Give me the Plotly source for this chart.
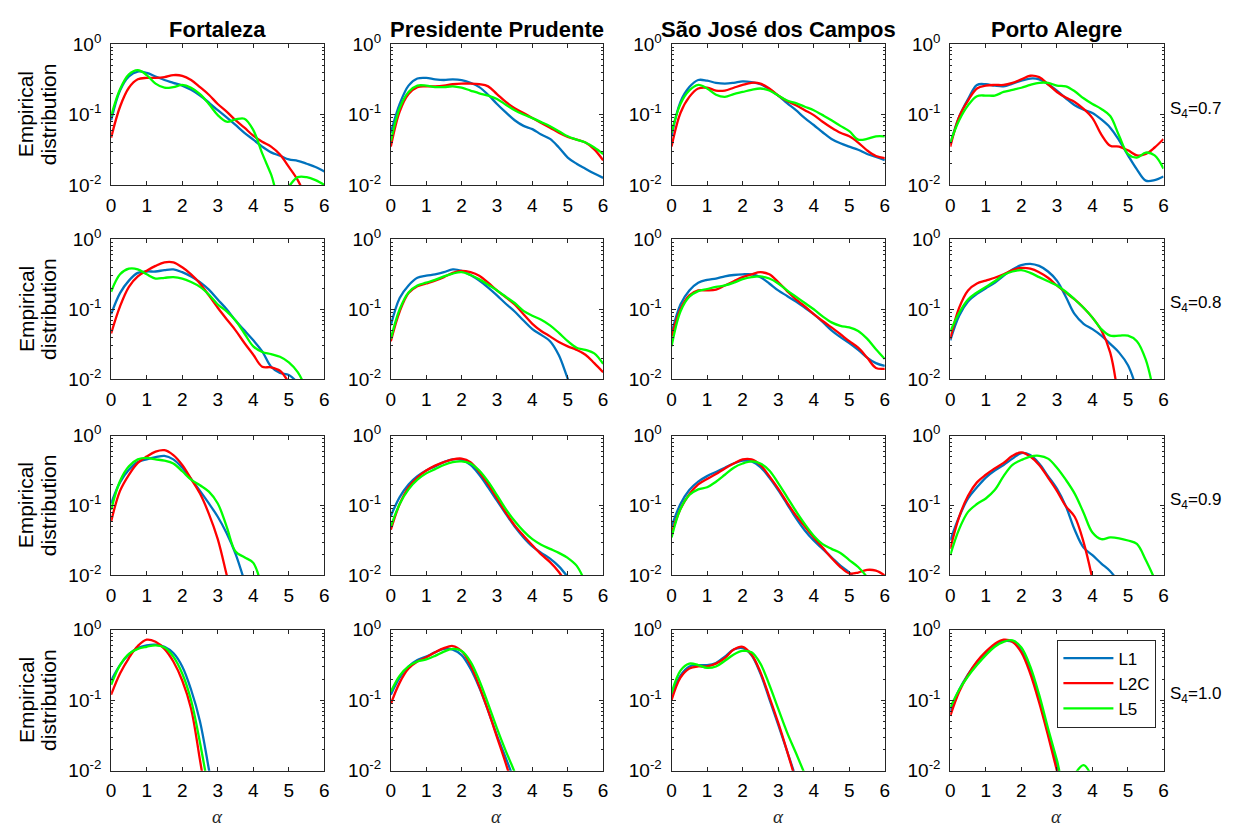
import plotly.graph_objects as go

# ---------------- data ----------------
ALPHA = [0, 0.25, 0.5, 0.75, 1, 1.25, 1.5, 1.75, 2, 2.25, 2.5, 2.75, 3,
         3.25, 3.5, 3.75, 4, 4.25, 4.5, 4.75, 5, 5.25, 5.5, 5.75, 6]

CITIES = ["Fortaleza", "Presidente Prudente", "São José dos Campos", "Porto Alegre"]
S4_LEVELS = ["0.7", "0.8", "0.9", "1.0"]
SERIES_NAMES = ["L1", "L2C", "L5"]
X_TICKS = [0, 1, 2, 3, 4, 5, 6]
Y_TICK_VALS = [0.01, 0.1, 1]
Y_TICK_TEXT = ["10<sup>-2</sup>", "10<sup>-1</sup>", "10<sup>0</sup>"]
Y_MINOR = [0.02, 0.03, 0.04, 0.05, 0.06, 0.07, 0.08, 0.09,
           0.2, 0.3, 0.4, 0.5, 0.6, 0.7, 0.8, 0.9]

# S4 = 0.7
FOR_07_L1 = [0.083, 0.219, 0.347, 0.407, 0.389, 0.347, 0.309, 0.282, 0.257, 0.224, 0.186, 0.148, 0.115,
             0.091, 0.071, 0.055, 0.044, 0.035, 0.029, 0.026, 0.023, 0.022, 0.020, 0.018, 0.0155]
FOR_07_L2C = [0.047, 0.129, 0.240, 0.316, 0.331, 0.331, 0.339, 0.363, 0.355, 0.309, 0.245, 0.191, 0.141,
              0.110, 0.083, 0.065, 0.050, 0.041, 0.035, 0.027, 0.018, 0.0117, 0.0063]
FOR_07_L5 = [0.095, 0.229, 0.372, 0.427, 0.363, 0.275, 0.240, 0.245, 0.263, 0.240, 0.195, 0.141, 0.098,
             0.079, 0.085, 0.087, 0.060, 0.028, 0.0141, 0.0063, 0.0095, 0.0129, 0.0129, 0.0117, 0.0100]

PP_07_L1 = [0.055, 0.141, 0.257, 0.324, 0.331, 0.316, 0.309, 0.316, 0.309, 0.282, 0.245, 0.191, 0.141,
            0.107, 0.083, 0.069, 0.062, 0.052, 0.045, 0.034, 0.0245, 0.020, 0.017, 0.0145, 0.0126]
PP_07_L2C = [0.035, 0.110, 0.195, 0.245, 0.251, 0.251, 0.257, 0.269, 0.275, 0.275, 0.269, 0.251, 0.195,
             0.151, 0.123, 0.105, 0.089, 0.076, 0.065, 0.055, 0.048, 0.044, 0.040, 0.032, 0.0224]
PP_07_L5 = [0.042, 0.123, 0.209, 0.257, 0.257, 0.245, 0.245, 0.251, 0.240, 0.219, 0.200, 0.186, 0.166,
            0.138, 0.115, 0.100, 0.089, 0.078, 0.068, 0.058, 0.049, 0.044, 0.040, 0.034, 0.0275]

SJC_07_L1 = [0.049, 0.151, 0.245, 0.309, 0.302, 0.282, 0.275, 0.282, 0.295, 0.288, 0.269, 0.229, 0.186,
             0.145, 0.115, 0.089, 0.071, 0.056, 0.045, 0.039, 0.035, 0.0316, 0.0275, 0.025, 0.0224]
SJC_07_L2C = [0.035, 0.105, 0.178, 0.234, 0.240, 0.219, 0.219, 0.240, 0.263, 0.282, 0.275, 0.234, 0.186,
              0.155, 0.135, 0.115, 0.098, 0.079, 0.065, 0.055, 0.049, 0.040, 0.031, 0.0257, 0.024]
SJC_07_L5 = [0.055, 0.141, 0.219, 0.263, 0.234, 0.191, 0.178, 0.195, 0.209, 0.224, 0.234, 0.219, 0.186,
             0.158, 0.145, 0.129, 0.115, 0.098, 0.083, 0.069, 0.058, 0.044, 0.045, 0.049, 0.049]

PA_07_L1 = [0.038, 0.093, 0.166, 0.263, 0.269, 0.257, 0.251, 0.275, 0.302, 0.324, 0.316, 0.269, 0.219,
            0.170, 0.135, 0.117, 0.105, 0.085, 0.065, 0.043, 0.0263, 0.0166, 0.0115, 0.0117, 0.0132]
PA_07_L2C = [0.035, 0.093, 0.158, 0.234, 0.257, 0.263, 0.263, 0.282, 0.316, 0.355, 0.339, 0.269, 0.209,
             0.174, 0.151, 0.120, 0.089, 0.052, 0.036, 0.035, 0.031, 0.0263, 0.0275, 0.034, 0.045]
PA_07_L5 = [0.040, 0.083, 0.135, 0.182, 0.186, 0.186, 0.209, 0.224, 0.240, 0.263, 0.282, 0.282, 0.257,
            0.251, 0.214, 0.170, 0.141, 0.120, 0.095, 0.050, 0.0275, 0.0245, 0.0288, 0.0263, 0.017]

# S4 = 0.8
FOR_08_L1 = [0.085, 0.170, 0.257, 0.331, 0.347, 0.347, 0.363, 0.372, 0.339, 0.295, 0.245, 0.191, 0.138,
             0.100, 0.069, 0.050, 0.036, 0.025, 0.0151, 0.0123, 0.0115, 0.0089]
FOR_08_L2C = [0.045, 0.110, 0.209, 0.295, 0.355, 0.417, 0.468, 0.468, 0.398, 0.316, 0.234, 0.158, 0.105,
              0.072, 0.050, 0.033, 0.0224, 0.0151, 0.0148, 0.0132, 0.0089]
FOR_08_L5 = [0.178, 0.316, 0.380, 0.372, 0.316, 0.275, 0.282, 0.288, 0.275, 0.245, 0.209, 0.162, 0.117,
             0.093, 0.069, 0.045, 0.0295, 0.0245, 0.0229, 0.0209, 0.0174, 0.0126, 0.0071]

PP_08_L1 = [0.059, 0.145, 0.219, 0.282, 0.302, 0.316, 0.339, 0.372, 0.355, 0.309, 0.257, 0.204, 0.158,
            0.120, 0.093, 0.069, 0.052, 0.043, 0.035, 0.022, 0.0102, 0.005]
PP_08_L2C = [0.035, 0.093, 0.170, 0.214, 0.234, 0.257, 0.288, 0.331, 0.355, 0.339, 0.302, 0.240, 0.186,
             0.148, 0.117, 0.085, 0.062, 0.049, 0.041, 0.034, 0.0295, 0.0263, 0.0224, 0.017, 0.0126]
PP_08_L5 = [0.038, 0.100, 0.174, 0.219, 0.240, 0.263, 0.295, 0.324, 0.339, 0.309, 0.269, 0.224, 0.186,
            0.151, 0.123, 0.095, 0.081, 0.071, 0.059, 0.046, 0.035, 0.0282, 0.0263, 0.0234, 0.0166]

SJC_08_L1 = [0.045, 0.117, 0.186, 0.240, 0.263, 0.275, 0.295, 0.309, 0.316, 0.316, 0.288, 0.234, 0.186,
             0.155, 0.129, 0.105, 0.085, 0.066, 0.050, 0.040, 0.033, 0.0263, 0.0204, 0.017, 0.0155]
SJC_08_L2C = [0.041, 0.100, 0.158, 0.186, 0.186, 0.191, 0.219, 0.251, 0.288, 0.316, 0.339, 0.316, 0.245,
              0.182, 0.138, 0.110, 0.085, 0.068, 0.055, 0.044, 0.035, 0.0282, 0.0204, 0.0145, 0.0141]
SJC_08_L5 = [0.0295, 0.093, 0.151, 0.182, 0.195, 0.209, 0.219, 0.240, 0.269, 0.288, 0.295, 0.275, 0.234,
             0.186, 0.151, 0.123, 0.100, 0.079, 0.065, 0.058, 0.055, 0.049, 0.038, 0.0269, 0.0195]

PA_08_L1 = [0.036, 0.081, 0.129, 0.166, 0.200, 0.240, 0.302, 0.372, 0.427, 0.447, 0.417, 0.347, 0.257,
            0.151, 0.085, 0.062, 0.052, 0.042, 0.032, 0.024, 0.0158, 0.0071]
PA_08_L2C = [0.038, 0.105, 0.186, 0.234, 0.257, 0.282, 0.316, 0.363, 0.389, 0.380, 0.339, 0.282, 0.219,
             0.174, 0.138, 0.105, 0.076, 0.050, 0.024, 0.0045]
PA_08_L5 = [0.048, 0.089, 0.138, 0.174, 0.209, 0.251, 0.309, 0.347, 0.363, 0.331, 0.288, 0.251, 0.219,
            0.178, 0.138, 0.105, 0.076, 0.052, 0.042, 0.042, 0.042, 0.035, 0.019, 0.0056]

# S4 = 0.9
FOR_09_L1 = [0.107, 0.214, 0.324, 0.417, 0.457, 0.490, 0.513, 0.457, 0.347, 0.240, 0.162, 0.107, 0.069,
             0.040, 0.0204, 0.0083]
FOR_09_L2C = [0.059, 0.162, 0.275, 0.407, 0.501, 0.589, 0.617, 0.525, 0.380, 0.240, 0.148, 0.076, 0.033,
              0.0102, 0.003]
FOR_09_L5 = [0.087, 0.224, 0.363, 0.457, 0.479, 0.457, 0.437, 0.398, 0.309, 0.234, 0.195, 0.158, 0.107,
             0.050, 0.022, 0.0182, 0.0151, 0.0063]

PP_09_L1 = [0.071, 0.132, 0.200, 0.263, 0.316, 0.363, 0.417, 0.457, 0.447, 0.380, 0.275, 0.182, 0.117,
            0.076, 0.050, 0.035, 0.026, 0.021, 0.0174, 0.0135, 0.0095]
PP_09_L2C = [0.045, 0.105, 0.182, 0.251, 0.316, 0.372, 0.417, 0.457, 0.468, 0.417, 0.302, 0.200, 0.126,
             0.079, 0.052, 0.037, 0.027, 0.020, 0.0155, 0.0112, 0.0071]
PP_09_L5 = [0.050, 0.105, 0.170, 0.234, 0.288, 0.331, 0.380, 0.417, 0.427, 0.398, 0.316, 0.219, 0.141,
            0.089, 0.060, 0.043, 0.033, 0.0275, 0.024, 0.021, 0.0178, 0.0138, 0.0079]

SJC_09_L1 = [0.050, 0.105, 0.166, 0.219, 0.263, 0.302, 0.347, 0.398, 0.437, 0.427, 0.355, 0.251, 0.166,
             0.105, 0.066, 0.044, 0.0316, 0.024, 0.0182, 0.0138, 0.011, 0.0079]
SJC_09_L2C = [0.040, 0.089, 0.145, 0.200, 0.240, 0.282, 0.339, 0.398, 0.457, 0.457, 0.380, 0.263, 0.174,
              0.110, 0.072, 0.050, 0.035, 0.025, 0.0178, 0.0132, 0.0107, 0.011, 0.012, 0.0117, 0.0100]
SJC_09_L5 = [0.035, 0.089, 0.141, 0.170, 0.182, 0.219, 0.275, 0.347, 0.398, 0.427, 0.398, 0.316, 0.209,
             0.132, 0.083, 0.054, 0.037, 0.028, 0.024, 0.021, 0.0166, 0.0132, 0.0095]

PA_09_L1 = [0.0316, 0.069, 0.126, 0.182, 0.251, 0.316, 0.380, 0.468, 0.562, 0.525, 0.398, 0.263, 0.174,
            0.098, 0.045, 0.025, 0.0195, 0.0148, 0.0115, 0.0079]
PA_09_L2C = [0.024, 0.069, 0.138, 0.214, 0.275, 0.339, 0.407, 0.513, 0.575, 0.501, 0.380, 0.251, 0.162,
             0.098, 0.069, 0.030, 0.0089]
PA_09_L5 = [0.0195, 0.046, 0.081, 0.105, 0.126, 0.166, 0.263, 0.380, 0.447, 0.501, 0.513, 0.468, 0.347,
            0.234, 0.148, 0.079, 0.041, 0.033, 0.035, 0.034, 0.0316, 0.0282, 0.0166, 0.0089]

# S4 = 1.0
FOR_10_L1 = [0.191, 0.316, 0.447, 0.550, 0.603, 0.617, 0.575, 0.468, 0.302, 0.141, 0.050, 0.0105, 0.002]
FOR_10_L2C = [0.120, 0.240, 0.398, 0.589, 0.724, 0.676, 0.537, 0.355, 0.191, 0.076, 0.0141, 0.0025]
FOR_10_L5 = [0.166, 0.316, 0.457, 0.537, 0.575, 0.603, 0.562, 0.417, 0.240, 0.100, 0.025, 0.005]

PP_10_L1 = [0.120, 0.209, 0.302, 0.372, 0.417, 0.479, 0.537, 0.525, 0.437, 0.282, 0.151, 0.071, 0.0316,
            0.0151, 0.0071]
PP_10_L2C = [0.089, 0.178, 0.282, 0.355, 0.407, 0.479, 0.550, 0.589, 0.501, 0.316, 0.158, 0.071, 0.030,
             0.0126, 0.005]
PP_10_L5 = [0.132, 0.224, 0.302, 0.355, 0.380, 0.427, 0.490, 0.537, 0.501, 0.355, 0.191, 0.089, 0.040,
            0.019, 0.0095, 0.004]

SJC_10_L1 = [0.120, 0.224, 0.302, 0.316, 0.316, 0.339, 0.417, 0.525, 0.550, 0.437, 0.240, 0.105, 0.045,
             0.019, 0.0079]
SJC_10_L2C = [0.100, 0.209, 0.282, 0.302, 0.302, 0.331, 0.398, 0.525, 0.575, 0.447, 0.251, 0.112, 0.048,
              0.019, 0.0071]
SJC_10_L5 = [0.126, 0.263, 0.331, 0.316, 0.288, 0.302, 0.363, 0.447, 0.501, 0.479, 0.331, 0.166, 0.076,
             0.035, 0.0178, 0.0089]

PA_10_L1 = [0.071, 0.141, 0.234, 0.347, 0.468, 0.603, 0.692, 0.676, 0.501, 0.263, 0.105, 0.035, 0.012, 0.004]
PA_10_L2C = [0.060, 0.132, 0.229, 0.355, 0.490, 0.631, 0.724, 0.676, 0.479, 0.240, 0.093, 0.0316, 0.010, 0.0032]
PA_10_L5 = [0.079, 0.141, 0.219, 0.316, 0.437, 0.575, 0.676, 0.708, 0.562, 0.302, 0.120, 0.040, 0.0141,
            0.005, 0.0089, 0.012, 0.0079]

PANELS = [
    [(FOR_07_L1, FOR_07_L2C, FOR_07_L5), (PP_07_L1, PP_07_L2C, PP_07_L5),
     (SJC_07_L1, SJC_07_L2C, SJC_07_L5), (PA_07_L1, PA_07_L2C, PA_07_L5)],
    [(FOR_08_L1, FOR_08_L2C, FOR_08_L5), (PP_08_L1, PP_08_L2C, PP_08_L5),
     (SJC_08_L1, SJC_08_L2C, SJC_08_L5), (PA_08_L1, PA_08_L2C, PA_08_L5)],
    [(FOR_09_L1, FOR_09_L2C, FOR_09_L5), (PP_09_L1, PP_09_L2C, PP_09_L5),
     (SJC_09_L1, SJC_09_L2C, SJC_09_L5), (PA_09_L1, PA_09_L2C, PA_09_L5)],
    [(FOR_10_L1, FOR_10_L2C, FOR_10_L5), (PP_10_L1, PP_10_L2C, PP_10_L5),
     (SJC_10_L1, SJC_10_L2C, SJC_10_L5), (PA_10_L1, PA_10_L2C, PA_10_L5)],
]

# ---------------- style / layout ----------------
W, H = 1234, 839
COLORS = ["#0072BD", "#FF0000", "#00FF00"]
AX = "#262626"
FONT = "Liberation Sans, Arial, sans-serif"
SERIF = "Liberation Serif, Times New Roman, serif"
COL_PX = [(107, 322), (389, 603), (672, 887), (953, 1168)]
ROW_PX = [(32, 177), (233, 377), (435, 579), (635, 780)]

fig = go.Figure()
layout = dict(
    width=W, height=H, autosize=False, margin=dict(l=0, r=0, t=0, b=0, pad=0),
    paper_bgcolor="white", plot_bgcolor="white",
    font=dict(family=FONT, color=AX),
    showlegend=True,
    legend=dict(x=1061 / W, y=1 - 645 / H, xanchor="left", yanchor="top",
                bordercolor=AX, borderwidth=1, bgcolor="white",
                font=dict(family=FONT, size=17, color="black"), tracegroupgap=0,
                itemwidth=50),
)
annotations = []

for r in range(4):
    for c in range(4):
        k = r * 4 + c + 1
        xa = "xaxis" if k == 1 else f"xaxis{k}"
        ya = "yaxis" if k == 1 else f"yaxis{k}"
        xr = "x" if k == 1 else f"x{k}"
        yr = "y" if k == 1 else f"y{k}"
        x0, x1 = COL_PX[c]
        t, b = ROW_PX[r]
        layout[xa] = dict(
            domain=[x0 / W, x1 / W], anchor=yr, range=[0, 6],
            tickvals=X_TICKS, ticktext=[str(v) for v in X_TICKS],
            ticks="inside", ticklen=4, tickcolor=AX, showline=True, linecolor=AX,
            linewidth=1, mirror="ticks", showgrid=False, zeroline=False,
            tickfont=dict(family=FONT, size=19, color="black"), ticklabelstandoff=3,
        )
        layout[ya] = dict(
            domain=[1 - b / H, 1 - t / H], anchor=xr, type="log", range=[-2, 0],
            tickvals=Y_TICK_VALS, ticktext=Y_TICK_TEXT,
            ticks="inside", ticklen=4, tickcolor=AX, showline=True, linecolor=AX,
            linewidth=1, mirror="ticks", showgrid=False, zeroline=False,
            tickfont=dict(family=FONT, size=19, color="black"), ticklabelstandoff=5,
            minor=dict(tickvals=Y_MINOR, ticks="inside", ticklen=2, tickcolor=AX, showgrid=False),
        )
        for s in range(3):
            yv = PANELS[r][c][s]
            fig.add_trace(go.Scatter(
                x=ALPHA[:len(yv)], y=yv, mode="lines", name=SERIES_NAMES[s],
                line=dict(color=COLORS[s], width=2.3, shape="spline", smoothing=1.0),
                xaxis=xr, yaxis=yr, showlegend=(r == 3 and c == 3),
                hoverinfo="skip",
            ))

# column titles
for c, city in enumerate(CITIES):
    x0, x1 = COL_PX[c]
    annotations.append(dict(
        x=(x0 + x1) / 2 / W, y=1 - 17 / H, xref="paper", yref="paper",
        text=f"<b>{city}</b>", showarrow=False, xanchor="center", yanchor="middle",
        font=dict(family=FONT, size=22, color="black")))

# row labels
for r, lev in enumerate(S4_LEVELS):
    t, b = ROW_PX[r]
    yc = (t + b) / 2
    for txt, xpx in (("Empirical", 21), ("distribution", 44)):
        annotations.append(dict(
            x=xpx / W, y=1 - yc / H, xref="paper", yref="paper",
            text=txt, textangle=-90, showarrow=False,
            xanchor="center", yanchor="middle",
            font=dict(family=FONT, size=21, color="black")))
    annotations.append(dict(
        x=1173 / W, y=1 - (yc - 5) / H, xref="paper", yref="paper",
        text=f"S<sub>4</sub>={lev}", showarrow=False, xanchor="left", yanchor="middle",
        font=dict(family=FONT, size=17, color="black")))

# alpha labels
for c in range(4):
    x0, x1 = COL_PX[c]
    annotations.append(dict(
        x=(x0 + x1) / 2 / W, y=1 - 827 / H, xref="paper", yref="paper",
        text="<i>α</i>", showarrow=False, xanchor="center", yanchor="middle",
        font=dict(family=SERIF, size=19, color=AX)))

layout["annotations"] = annotations
fig.update_layout(**layout)
fig.write_html(
    "out.html",
    config={"displayModeBar": False, "responsive": False},
    post_script="document.body.style.margin='0px';",
)
